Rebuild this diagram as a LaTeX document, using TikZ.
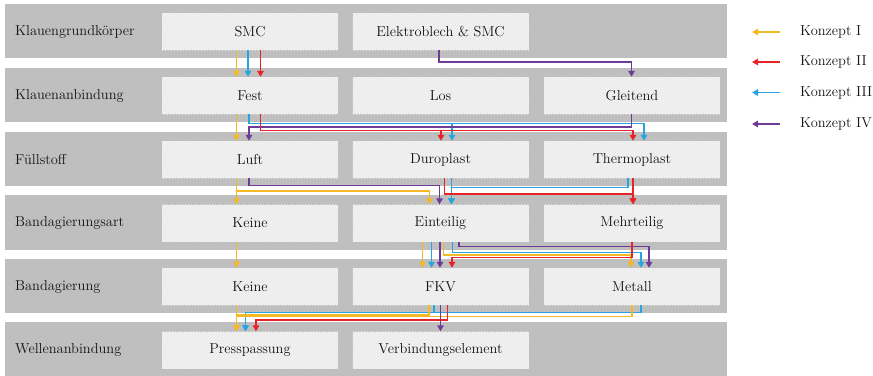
\documentclass[tikz,border=0pt]{standalone}
\usetikzlibrary{arrows.meta,patterns}
\definecolor{kI}{RGB}{245,185,40}
\definecolor{kII}{RGB}{230,35,38}
\definecolor{kIII}{RGB}{40,165,225}
\definecolor{kIV}{RGB}{110,60,150}
\definecolor{bandgray}{RGB}{191,191,191}
\definecolor{boxfill}{RGB}{244,244,244}
\definecolor{hatch}{RGB}{228,228,228}
\definecolor{txt}{RGB}{20,20,20}
\begin{document}
\begin{tikzpicture}[x=1pt,y=-1pt,
  bandbox/.style={fill=bandgray},
  lbl/.style={anchor=west,inner sep=0pt,text=txt,font=\fontsize{14.4}{16}\selectfont},
  cell/.style={minimum width=176pt,minimum height=37pt,inner sep=0pt,text=txt,
    preaction={fill=boxfill},pattern=north east lines,pattern color=hatch,
    font=\fontsize{14.4}{16}\selectfont},
  arr/.style={line width=1.5pt,-{Triangle[length=6pt,width=6.5pt]}},
  legtxt/.style={anchor=west,inner sep=0pt,text=txt,font=\fontsize{14.4}{16}\selectfont}]
\useasboundingbox (0,0) rectangle (873,375);
% bands
\fill[bandbox] (5,3.5) rectangle (727,58);
\fill[bandbox] (5,67.5) rectangle (727,122);
\fill[bandbox] (5,131.5) rectangle (727,186);
\fill[bandbox] (5,195) rectangle (727,249.5);
\fill[bandbox] (5,258.5) rectangle (727,313);
\fill[bandbox] (5,322) rectangle (727,380);
% row labels
\node[lbl] (L1) at (15,31.5) {Klauengrundkörper};
\node[lbl] (L2) at (15,95.5) {Klauenanbindung};
\node[lbl] (L3) at (15,159.5) {Füllstoff};
\node[lbl] (L4) at (15,223) {Bandagierungsart};
\node[lbl] (L5) at (15,286.5) {Bandagierung};
\node[lbl] (L6) at (15,350) {Wellenanbindung};
% boxes
\node[cell] (smc) at (250,31.5) {SMC};
\node[cell] (elek) at (440.5,31.5) {Elektroblech \& SMC};
\node[cell] (fest) at (250,95.5) {Fest};
\node[cell] (los) at (440.5,95.5) {Los};
\node[cell] (gleit) at (632,95.5) {Gleitend};
\node[cell] (luft) at (250,159.5) {Luft};
\node[cell] (duro) at (440.5,159.5) {Duroplast};
\node[cell] (thermo) at (632,159.5) {Thermoplast};
\node[cell] (keineA) at (250,223) {Keine};
\node[cell] (eint) at (440.5,223) {Einteilig};
\node[cell] (mehr) at (632,223) {Mehrteilig};
\node[cell] (keineB) at (250,286.5) {Keine};
\node[cell] (fkv) at (440.5,286.5) {FKV};
\node[cell] (metall) at (632,286.5) {Metall};
\node[cell] (press) at (250,350) {Presspassung};
\node[cell] (verb) at (440.5,350) {Verbindungselement};
% row 1 -> 2
\draw[arr,kI] ([xshift=-13.5pt]smc.south) -- ([xshift=-13.5pt]fest.north);
\draw[arr,kIII] ([xshift=-2pt]smc.south) -- ([xshift=-2pt]fest.north);
\draw[arr,kII] ([xshift=10.5pt]smc.south) -- ([xshift=10.5pt]fest.north);
\draw[arr,kIV] ([xshift=-1.5pt]elek.south) -- ++(0,12) -| ([xshift=-0.5pt]gleit.north);
% row 2 -> 3
\draw[arr,kI] ([xshift=-13.5pt]fest.south) -- ([xshift=-13.5pt]luft.north);
\draw[arr,kIII] ([xshift=-1pt]fest.south) -- ++(0,9.5) -| ([xshift=12pt]thermo.north);
\draw[arr,kIII] ([xshift=-1pt]fest.south) -- ++(0,9.5) -| ([xshift=11.5pt]duro.north);
\draw[arr,kIV] ([xshift=-0.5pt]gleit.south) -- ++(0,13) -| ([xshift=-1pt]luft.north);
\draw[arr,kII] ([xshift=10.5pt]fest.south) -- ++(0,16.5) -| ([xshift=1pt]thermo.north);
\draw[arr,kII] ([xshift=10.5pt]fest.south) -- ++(0,16.5) -| ([xshift=0.5pt]duro.north);
% row 3 -> 4
\draw[arr,kI] ([xshift=-13.5pt]luft.south) -- ([xshift=-13.5pt]keineA.north);
\draw[arr,kI] ([xshift=-13.5pt]luft.south) -- ++(0,13) -| ([xshift=-11pt]eint.north);
\draw[arr,kIV] ([xshift=-1pt]luft.south) -- ++(0,7.5) -| ([xshift=-1pt]eint.north);
\draw[arr,kIII] ([xshift=-4pt]thermo.south) -- ++(0,9.5) -| ([xshift=11pt]eint.north);
\draw[arr,kIII] ([xshift=11pt]duro.south) -- ([xshift=11pt]eint.north);
\draw[arr,kII] ([xshift=4pt]duro.south) -- ++(0,16) -| ([xshift=1pt]mehr.north);
\draw[arr,kII] ([xshift=1pt]thermo.south) -- ([xshift=1pt]mehr.north);
% row 4 -> 5
\draw[arr,kI] ([xshift=-13.5pt]keineA.south) -- ([xshift=-13.5pt]keineB.north);
\draw[arr,kI] ([xshift=-18pt]eint.south) -- ([xshift=-18pt]fkv.north);
\draw[arr,kIII] ([xshift=-9pt]eint.south) -- ([xshift=-9pt]fkv.north);
\draw[arr,kIV] ([xshift=-0.5pt]eint.south) -- ([xshift=-0.5pt]fkv.north);
\draw[arr,kIV] ([xshift=18.5pt]eint.south) -- ++(0,5) -| ([xshift=17pt]metall.north);
\draw[arr,kIII] ([xshift=12pt]eint.south) -- ++(0,11) -| ([xshift=9pt]metall.north);
\draw[arr,kI] ([xshift=3pt]eint.south) -- ++(0,13.5) -| ([xshift=-1pt]metall.north);
\draw[arr,kII] (mehr.south) -- ++(0,16) -| ([xshift=11.5pt]fkv.north);
% row 5 -> 6
\draw[arr,kI] ([xshift=-13.5pt]keineB.south) -- ([xshift=-13.5pt]press.north);
\draw[arr,kIII] ([xshift=9pt]metall.south) -- ++(0,7.5) -| ([xshift=-4.5pt]press.north);
\draw[arr,kIII] ([xshift=-6.5pt]fkv.south) -- ++(0,7.5) -| ([xshift=-4.5pt]press.north);
\draw[arr,kI] ([xshift=-11.5pt]fkv.south) -- ++(0,10) -| ([xshift=-13.5pt]press.north);
\draw[arr,kI] (metall.south) -- ++(0,11.5) -| ([xshift=-13.5pt]press.north);
\draw[arr,kII] ([xshift=7pt]fkv.south) -- ++(0,15) -| ([xshift=6pt]press.north);
\draw[arr,kIV] (fkv.south) -- (verb.north);
% legend
\node[legtxt] (g1) at (800,32) {Konzept I};
\node[legtxt] (g2) at (800,62) {Konzept II};
\node[legtxt] (g3) at (800,92.5) {Konzept III};
\node[legtxt] (g4) at (800,124) {Konzept IV};
\draw[arr,kI] ([xshift=-20pt]g1.west) -- ++(-28,0);
\draw[arr,kII] ([xshift=-20pt]g2.west) -- ++(-28,0);
\draw[arr,kIII] ([xshift=-20pt]g3.west) -- ++(-28,0);
\draw[arr,kIV] ([xshift=-20pt]g4.west) -- ++(-28,0);
\end{tikzpicture}
\end{document}
